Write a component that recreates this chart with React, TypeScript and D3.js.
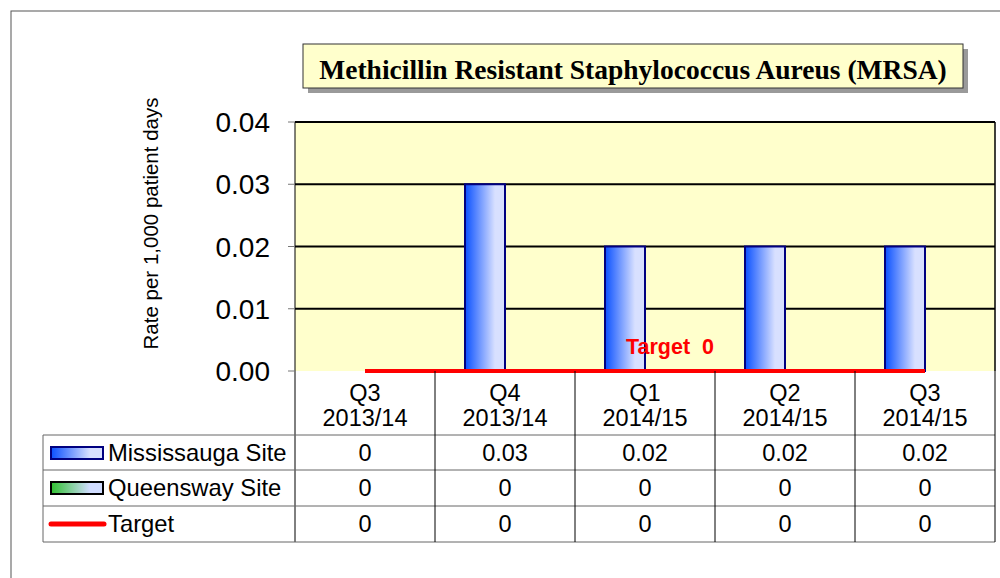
import React from 'react';
import * as d3 from 'd3';

const categories = [['Q3', '2013/14'], ['Q4', '2013/14'], ['Q1', '2014/15'], ['Q2', '2014/15'], ['Q3', '2014/15']];
const mississauga = [0, 0.03, 0.02, 0.02, 0.02];
const queensway = [0, 0, 0, 0, 0];
const target = [0, 0, 0, 0, 0];
const yTicks = [0, 0.01, 0.02, 0.03, 0.04];
const seriesNames = ['Mississauga Site', 'Queensway Site', 'Target'];

const App = () => {
  const width = 1000;
  const height = 578;
  const plotLeft = 295;
  const plotRight = 995;
  const plotTop = 122;
  const plotBottom = 371;
  const rowH = [435, 470, 506, 542];

  const xScale = d3.scaleBand<number>()
    .domain(categories.map((_, i) => i))
    .range([plotLeft, plotRight])
    .paddingInner(0)
    .paddingOuter(0);

  // two bars per quarter (Mississauga, Queensway), 40px each
  const inner = d3.scaleBand<number>()
    .domain([0, 1])
    .range([0, xScale.bandwidth()])
    .paddingOuter(0.75)
    .paddingInner(0);

  const yScale = d3.scaleLinear()
    .domain([0, 0.04])
    .range([plotBottom, plotTop]);

  const fmtTick = d3.format('.2f');
  const series = [mississauga, queensway];
  const fills = ['url(#blueGrad)', 'url(#greenGrad)'];
  const strokes = ['#000080', '#000000'];

  const targetLine = d3.line<number>()
    .x((_, i) => xScale(i)! + xScale.bandwidth() / 2)
    .y(d => yScale(d));

  const font = 'Arial, "Liberation Sans", sans-serif';
  const cx = (i: number) => xScale(i)! + xScale.bandwidth() / 2;

  return (
    <svg width={width} height={height} style={{ position: 'absolute', left: 0, top: 0 }} fontFamily={font}>
      <defs>
        <linearGradient id="blueGrad" x1="0" x2="1" y1="0" y2="0">
          <stop offset="0" stopColor="#0a50ff" />
          <stop offset="0.75" stopColor="#d8e0ff" />
          <stop offset="1" stopColor="#d8e0ff" />
        </linearGradient>
        <linearGradient id="greenGrad" x1="0" x2="1" y1="0" y2="0">
          <stop offset="0" stopColor="#30c030" />
          <stop offset="0.75" stopColor="#d0dcff" />
          <stop offset="1" stopColor="#d0dcff" />
        </linearGradient>
      </defs>
      <rect width={width} height={height} fill="#fff" />
      <rect x={11} y={11} width={1000} height={600} fill="none" stroke="#555" strokeWidth={1} />

      {/* title */}
      <rect x={308} y={49} width={660} height={44} fill="#9a9a9a" />
      <rect x={303} y={44} width={660} height={44} fill="#ffffcc" stroke="#333" strokeWidth={1} />
      <text x={633} y={79} textAnchor="middle" fontFamily='"Liberation Serif", "Times New Roman", serif' fontWeight="bold" fontSize={27.5}>
        Methicillin Resistant Staphylococcus Aureus (MRSA)
      </text>

      {/* plot area */}
      <rect x={plotLeft} y={plotTop} width={plotRight - plotLeft} height={plotBottom - plotTop} fill="#ffffcc" />
      {yTicks.filter(t => t > 0).map(t => (
        <line key={t} x1={plotLeft} x2={plotRight} y1={yScale(t)} y2={yScale(t)} stroke="#000" strokeWidth={2} />
      ))}
      <line x1={plotRight} x2={plotRight} y1={plotTop} y2={plotBottom} stroke="#000" strokeWidth={1.5} />
      <line x1={plotLeft} x2={plotLeft} y1={plotTop} y2={rowH[3]} stroke="#000" strokeWidth={1} />

      {yTicks.map(t => (
        <g key={t}>
          <line x1={plotLeft - 7} x2={plotLeft} y1={yScale(t)} y2={yScale(t)} stroke="#777" strokeWidth={1} />
          <text x={270} y={yScale(t) + 10} textAnchor="end" fontSize={28}>{fmtTick(t)}</text>
        </g>
      ))}

      <text transform={`translate(158,${(95 + 352) / 2}) rotate(-90)`} textAnchor="middle" fontSize={20.5}>
        Rate per 1,000 patient days
      </text>

      {/* bars */}
      {series.map((s, si) => s.map((v, i) => {
        if (v <= 0) return null;
        const x = xScale(i)! + inner(si)!;
        return (
          <rect key={`${si}-${i}`} x={x} y={yScale(v)} width={inner.bandwidth()} height={yScale(0) - yScale(v)}
            fill={fills[si]} stroke={strokes[si]} strokeWidth={2} />
        );
      }))}

      <path d={targetLine(target) || ''} fill="none" stroke="#ff0000" strokeWidth={4} />
      <text x={626} y={354} fill="#ff0000" fontWeight="bold" fontSize={21.5} xmlSpace="preserve">Target  0</text>

      {/* data table */}
      {rowH.map(y => (
        <line key={y} x1={43} x2={plotRight} y1={y} y2={y} stroke="#666" strokeWidth={1} />
      ))}
      <line x1={43} x2={43} y1={rowH[0]} y2={rowH[3]} stroke="#666" strokeWidth={1} />
      {categories.map((c, i) => (
        <g key={i}>
          <line x1={xScale(i)! + xScale.bandwidth()} x2={xScale(i)! + xScale.bandwidth()} y1={plotBottom} y2={rowH[3]} stroke="#000" strokeWidth={1} />
          <text x={cx(i)} y={401} textAnchor="middle" fontSize={23.5}>{c[0]}</text>
          <text x={cx(i)} y={426} textAnchor="middle" fontSize={23.5}>{c[1]}</text>
          {[mississauga, queensway, target].map((s, si) => (
            <text key={si} x={cx(i)} y={(rowH[si] + rowH[si + 1]) / 2 + 8} textAnchor="middle" fontSize={23.5}>
              {String(s[i])}
            </text>
          ))}
        </g>
      ))}

      {/* legend keys */}
      <rect x={51} y={447} width={52} height={12} fill="url(#blueGrad)" stroke="#000080" strokeWidth={2} />
      <rect x={51} y={482} width={52} height={12} fill="url(#greenGrad)" stroke="#000" strokeWidth={2} />
      <line x1={51} x2={104} y1={524} y2={524} stroke="#ff0000" strokeWidth={5} strokeLinecap="round" />
      {seriesNames.map((n, i) => (
        <text key={n} x={108} y={(rowH[i] + rowH[i + 1]) / 2 + 8} fontSize={23.8}>{n}</text>
      ))}
    </svg>
  );
};

export default App;
